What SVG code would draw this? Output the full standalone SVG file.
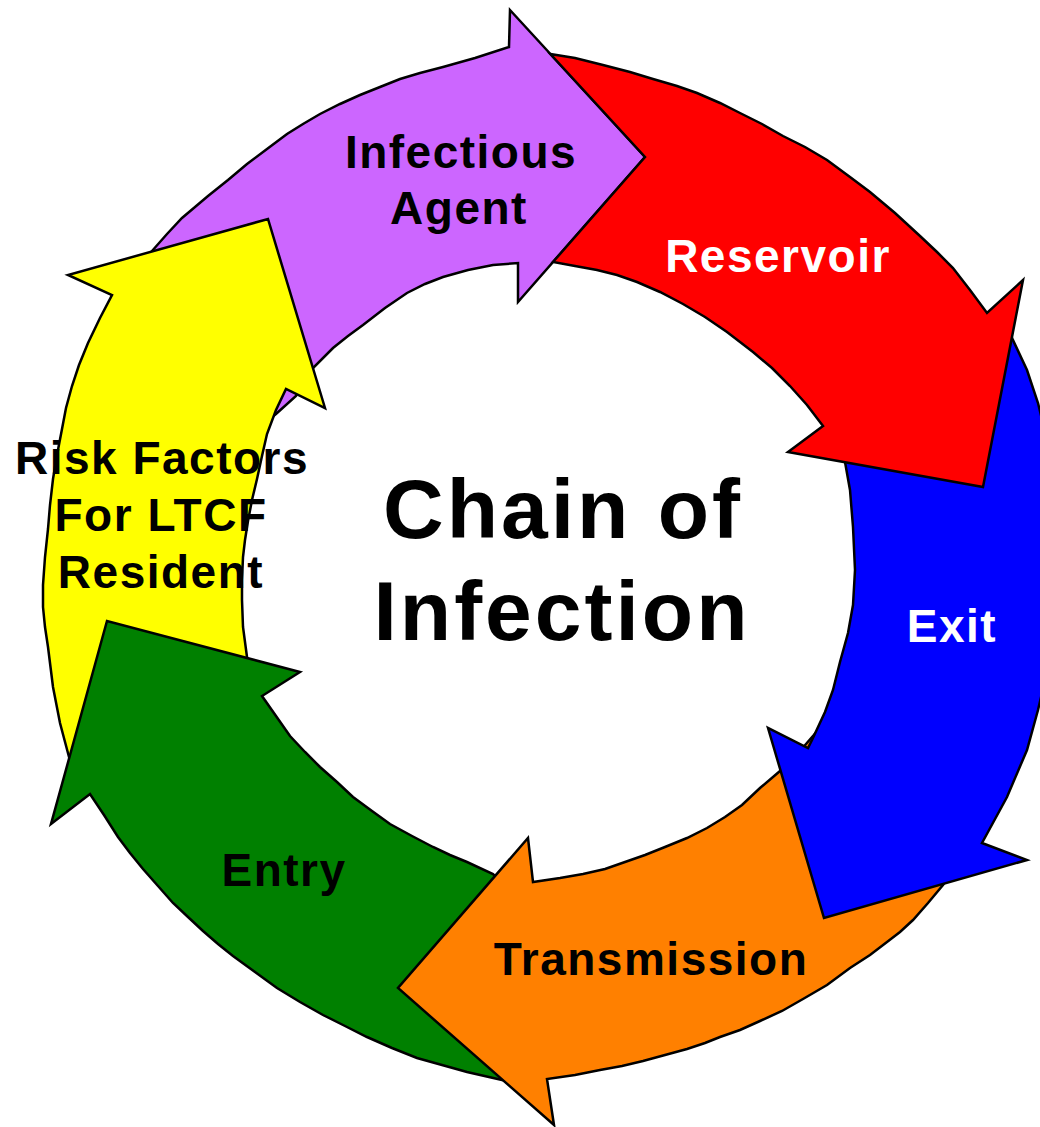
<svg xmlns="http://www.w3.org/2000/svg" width="1040" height="1127" viewBox="0 0 1040 1127">
  <style>
    .arrow { stroke: #000000; stroke-width: 2.5; stroke-linejoin: miter; stroke-miterlimit: 12; }
    .label { font-family: "Liberation Sans", Arial, sans-serif; font-weight: bold; font-size: 46px; letter-spacing: 1.5px; text-anchor: middle; }
    .dark { fill: #000000; }
    .light { fill: #FFFFFF; }
    .title { font-family: "Liberation Sans", Arial, sans-serif; font-weight: bold; font-size: 84px; letter-spacing: 3px; text-anchor: middle; fill: #000000; }
  </style>
  <rect width="1040" height="1127" fill="#FFFFFF"/>

  <!-- Stacking: each head sits over the next arrow's tail; the red tail is cut along the purple head -->
  <g id="infectious-agent">
    <path class="arrow" fill="#CC66FF" d="M130,275 L152,251 L167,234 L182,218 L195,207 L208,196 L228,180 L247,164 L267,149 L287,134 L303,124 L320,114 L340,104 L360,95 L380,87 L400,79 L420,73 L443,67 L475,58 L509,47 L510,10 L645,157 L518,302 L518,263 L493,265 L468,270 L443,277 L425,284 L407,293 L385,308 L363,325 L348,336 L333,348 L313,368 L296,396 L276,414 L255,430 Z"/>
    <text class="label dark" x="461" y="168">Infectious</text>
    <text class="label dark" x="459" y="224">Agent</text>
  </g>

  <g id="risk-factors">
    <path class="arrow" fill="#FFFF00" d="M75,775 L69,757 L60,723 L53,687 L48,647 L45,627 L43,607 L43,585 L45,557 L48,529 L50,505 L53,479 L57,455 L62,429 L66,408 L72,386 L79,365 L88,343 L100,318 L112,295 L68,275 L268,219 L325,408 L286,389 L276,410 L267,434 L262,456 L257,479 L252,500 L248,521 L245,540 L243,557 L242,580 L242,600 L243,627 L247,657 L250,680 Z"/>
    <text class="label dark" x="162" y="474">Risk Factors</text>
    <text class="label dark" x="161" y="531">For LTCF</text>
    <text class="label dark" x="161" y="588">Resident</text>
  </g>

  <g id="entry">
    <path class="arrow" fill="#008000" d="M515,1082 L502,1080 L467,1072 L442,1065 L417,1058 L392,1048 L367,1037 L345,1026 L323,1015 L300,1002 L277,988 L255,972 L233,956 L218,944 L203,931 L188,917 L173,903 L158,886 L143,869 L130,853 L118,837 L104,815 L90,794 L51,824 L107,621 L300,672 L262,696 L276,716 L290,736 L305,752 L320,767 L337,782 L353,797 L372,811 L390,824 L412,836 L433,847 L450,855 L467,862 L493,874 L510,890 Z"/>
    <text class="label dark" x="284" y="886">Entry</text>
  </g>

  <g id="transmission">
    <path class="arrow" fill="#FF8000" d="M950,875 L943,885 L928,903 L913,920 L900,932 L887,942 L870,955 L850,968 L827,985 L803,999 L782,1011 L760,1021 L740,1030 L720,1037 L705,1043 L687,1049 L665,1055 L643,1061 L622,1066 L600,1070 L575,1075 L547,1079 L554,1125 L398,988 L528,838 L533,882 L560,878 L583,874 L605,869 L625,862 L645,855 L665,847 L687,838 L707,828 L725,817 L742,805 L760,788 L780,771 L795,757 L806,744 L820,728 Z"/>
    <text class="label dark" x="651" y="975">Transmission</text>
  </g>

  <g id="exit">
    <path class="arrow" fill="#0000FF" d="M1005,330 L1012,338 L1027,370 L1038,403 L1047,440 L1054,480 L1058,520 L1060,560 L1058,600 L1053,640 L1045,680 L1038,710 L1027,750 L1007,797 L982,843 L1027,860 L824,918 L768,728 L808,748 L812,740 L825,712 L833,690 L840,662 L848,633 L853,605 L855,570 L853,527 L850,490 L845,462 L850,455 Z"/>
    <text class="label light" x="952" y="642">Exit</text>
  </g>

  <g id="reservoir">
    <path class="arrow" fill="#FF0000" d="M550.4,54 L575,58 L603,65 L630,72 L653,79 L677,86 L697,93 L720,103 L740,113 L762,124 L783,136 L805,147 L827,160 L850,177 L870,192 L895,213 L920,236 L937,252 L953,268 L970,290 L987,313 L1023,280 L983,487 L788,452 L823,426 L807,405 L790,386 L772,368 L753,352 L740,342 L727,332 L705,317 L683,304 L660,292 L637,282 L617,275 L597,270 L575,266 L553,262 L645,157 Z"/>
    <text class="label light" x="778" y="272">Reservoir</text>
  </g>

  <g id="chain-title">
    <text class="title" x="563" y="538">Chain of</text>
    <text class="title" x="562" y="640">Infection</text>
  </g>
</svg>
